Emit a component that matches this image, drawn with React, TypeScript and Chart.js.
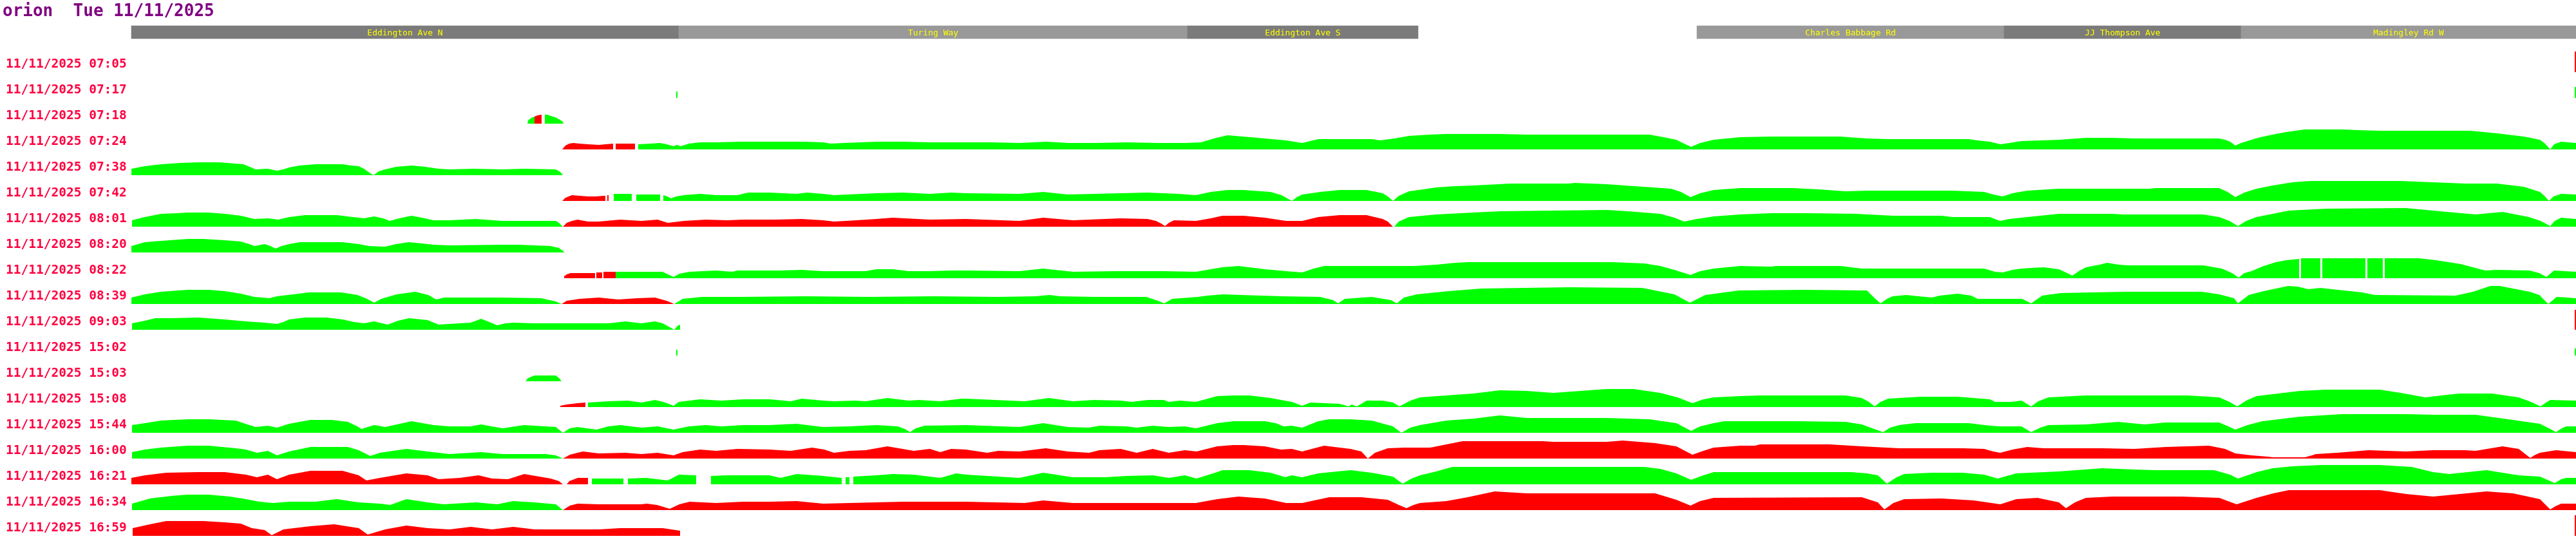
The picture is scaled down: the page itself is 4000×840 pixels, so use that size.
import React, { useEffect, useRef } from "react";
import { Chart, registerables } from "chart.js";

Chart.register(...registerables);

type Run = { c: "g" | "r"; p: number[] }; // p = [distance, height, distance, height, ...]

const titleText = "orion  Tue 11/11/2025";

const tripLabels = [
  "11/11/2025 07:05", "11/11/2025 07:17", "11/11/2025 07:18", "11/11/2025 07:24",
  "11/11/2025 07:38", "11/11/2025 07:42", "11/11/2025 08:01", "11/11/2025 08:20",
  "11/11/2025 08:22", "11/11/2025 08:39", "11/11/2025 09:03", "11/11/2025 15:02",
  "11/11/2025 15:03", "11/11/2025 15:08", "11/11/2025 15:44", "11/11/2025 16:00",
  "11/11/2025 16:21", "11/11/2025 16:34", "11/11/2025 16:59",
];

const stopNames = ["Eddington Ave N", "Turing Way", "Eddington Ave S", "Charles Babbage Rd", "JJ Thompson Ave", "Madingley Rd W"];
const stopFrom = [204, 1054, 1844, 2635, 3112, 3480];
const stopTo = [1054, 1844, 2202, 3112, 3480, 4000];
const stopTone = ["#7b7b7b", "#999999", "#7b7b7b", "#999999", "#7b7b7b", "#999999"];

const t0705: Run[] = [{ c: "r", p: [3998, 32, 4000, 32] }];
const t0717: Run[] = [{ c: "g", p: [1050, 10, 1052, 10] }, { c: "g", p: [3998, 17, 4000, 17] }];
const t0718: Run[] = [
  { c: "g", p: [819, 0, 820, 5, 825, 9, 830, 11] },
  { c: "r", p: [830, 11, 835, 13, 841, 14] },
  { c: "g", p: [846, 14, 850, 14, 855, 12, 862, 10, 868, 7, 874, 3, 875, 0] },
];
const t0724: Run[] = [
  { c: "r", p: [873, 0, 878, 6, 884, 9, 890, 10, 900, 9, 913, 8, 930, 7, 940, 8, 952, 9] },
  { c: "r", p: [956, 9, 986, 9] },
  { c: "g", p: [991, 8, 1010, 9, 1025, 10, 1035, 8, 1046, 5, 1051, 7, 1057, 5, 1070, 9, 1087, 11, 1112, 11, 1150, 12, 1200, 12, 1250, 12, 1278, 11, 1290, 9, 1310, 10, 1361, 12, 1400, 12, 1444, 11, 1500, 11, 1540, 11, 1583, 10, 1624, 12, 1660, 10, 1700, 10, 1750, 11, 1800, 10, 1840, 10, 1865, 11, 1885, 17, 1906, 22, 1930, 20, 1964, 17, 1997, 14, 2022, 10, 2047, 16, 2100, 16, 2130, 16, 2143, 14, 2165, 17, 2188, 21, 2220, 23, 2246, 24, 2329, 24, 2370, 23, 2561, 23, 2578, 20, 2603, 15, 2615, 9, 2626, 4, 2640, 10, 2661, 15, 2702, 19, 2750, 20, 2858, 20, 2870, 19, 2899, 17, 2932, 16, 3057, 16, 3070, 14, 3090, 12, 3106, 8, 3120, 10, 3139, 13, 3170, 14, 3197, 15, 3239, 18, 3280, 18, 3314, 17, 3446, 17, 3455, 15, 3463, 12, 3471, 6, 3480, 10, 3496, 15, 3510, 19, 3529, 23, 3550, 27, 3579, 31, 3637, 31, 3660, 30, 3695, 29, 3836, 29, 3877, 25, 3919, 20, 3944, 15, 3952, 9, 3960, 0, 3966, 8, 3977, 12, 4000, 10] },
];
const t0738: Run[] = [
  { c: "g", p: [204, 10, 225, 14, 250, 17, 280, 19, 308, 20, 340, 20, 353, 19, 378, 17, 390, 12, 397, 9, 416, 10, 430, 7, 440, 9, 449, 12, 465, 15, 490, 17, 532, 17, 545, 15, 557, 14, 565, 10, 572, 5, 580, 0, 588, 6, 598, 9, 615, 13, 639, 15, 660, 13, 681, 10, 698, 9, 735, 10, 780, 9, 814, 10, 863, 9, 870, 5, 874, 0] },
];
const t0742: Run[] = [
  { c: "r", p: [873, 0, 878, 5, 888, 9, 900, 8, 913, 7, 925, 7, 938, 8, 940, 8] },
  { c: "r", p: [943, 9, 945, 9] },
  { c: "g", p: [953, 11, 981, 11] },
  { c: "g", p: [988, 10, 1025, 10] },
  { c: "g", p: [1030, 9, 1036, 7, 1042, 4, 1050, 7, 1062, 9, 1087, 11, 1112, 9, 1145, 9, 1162, 13, 1195, 13, 1237, 11, 1253, 13, 1278, 11, 1295, 9, 1361, 12, 1402, 13, 1444, 11, 1477, 13, 1500, 12, 1583, 11, 1620, 14, 1658, 10, 1700, 11, 1740, 12, 1782, 13, 1830, 11, 1857, 9, 1880, 14, 1906, 17, 1931, 17, 1973, 14, 1990, 9, 2006, 0, 2014, 6, 2022, 10, 2050, 14, 2080, 17, 2122, 17, 2147, 12, 2155, 7, 2163, 0, 2172, 8, 2188, 15, 2210, 18, 2230, 21, 2260, 23, 2288, 24, 2346, 27, 2437, 27, 2445, 28, 2495, 26, 2537, 23, 2595, 19, 2610, 14, 2625, 6, 2640, 12, 2661, 17, 2702, 20, 2783, 20, 2824, 18, 2866, 15, 2899, 16, 3032, 16, 3081, 14, 3095, 10, 3110, 7, 3125, 12, 3148, 16, 3197, 19, 3339, 19, 3347, 20, 3446, 20, 3459, 14, 3471, 6, 3485, 13, 3504, 19, 3529, 24, 3560, 29, 3587, 31, 3728, 31, 3778, 29, 3828, 27, 3877, 27, 3919, 22, 3944, 14, 3951, 8, 3958, 0, 3965, 7, 3977, 11, 4000, 10] },
];
const t0801: Run[] = [
  { c: "g", p: [205, 10, 225, 15, 250, 20, 275, 21, 291, 22, 324, 22, 349, 20, 374, 17, 395, 12, 416, 13, 432, 11, 449, 15, 474, 18, 523, 18, 548, 15, 565, 13, 581, 16, 595, 13, 605, 9, 620, 13, 639, 17, 655, 14, 673, 10, 698, 10, 739, 12, 780, 9, 863, 9, 868, 6, 874, 0] },
  { c: "r", p: [874, 0, 880, 6, 888, 9, 897, 11, 913, 8, 930, 8, 963, 11, 996, 9, 1021, 11, 1037, 6, 1062, 9, 1096, 11, 1129, 10, 1154, 11, 1203, 11, 1245, 12, 1278, 10, 1295, 8, 1330, 10, 1361, 12, 1386, 14, 1444, 11, 1500, 12, 1583, 9, 1620, 14, 1666, 10, 1740, 13, 1782, 12, 1795, 9, 1803, 5, 1809, 1, 1815, 6, 1823, 10, 1857, 9, 1880, 13, 1898, 17, 1931, 17, 1964, 14, 1997, 9, 2022, 9, 2047, 15, 2080, 18, 2122, 18, 2147, 12, 2155, 8, 2163, 0] },
  { c: "g", p: [2165, 0, 2172, 8, 2188, 15, 2230, 19, 2288, 22, 2329, 24, 2412, 25, 2495, 26, 2528, 24, 2578, 20, 2600, 14, 2615, 8, 2635, 12, 2661, 16, 2702, 19, 2750, 21, 2808, 21, 2882, 20, 2940, 17, 3015, 17, 3032, 15, 3090, 15, 3100, 11, 3106, 9, 3120, 12, 3148, 15, 3197, 20, 3280, 20, 3297, 19, 3421, 19, 3446, 15, 3462, 9, 3475, 1, 3488, 9, 3504, 15, 3529, 20, 3554, 25, 3612, 28, 3736, 29, 3778, 25, 3844, 19, 3886, 23, 3927, 15, 3945, 9, 3960, 1, 3967, 9, 3977, 14, 4000, 12] },
];
const t0820: Run[] = [
  { c: "g", p: [204, 10, 225, 16, 250, 18, 291, 21, 316, 21, 349, 19, 374, 17, 387, 13, 395, 10, 411, 13, 420, 10, 428, 6, 437, 10, 449, 13, 465, 16, 532, 16, 557, 13, 573, 10, 598, 9, 615, 13, 635, 16, 655, 14, 673, 12, 698, 11, 780, 12, 805, 12, 855, 10, 868, 7, 877, 0] },
];
const t0822: Run[] = [
  { c: "r", p: [876, 3, 880, 6, 886, 8, 924, 8] },
  { c: "r", p: [926, 9, 935, 9] },
  { c: "r", p: [937, 10, 956, 10] },
  { c: "g", p: [956, 10, 1029, 10, 1037, 6, 1046, 2, 1055, 7, 1071, 10, 1112, 12, 1137, 10, 1145, 12, 1212, 12, 1245, 13, 1278, 11, 1344, 11, 1361, 14, 1386, 14, 1411, 11, 1444, 11, 1477, 12, 1500, 12, 1583, 11, 1620, 15, 1666, 10, 1732, 11, 1807, 11, 1857, 10, 1880, 14, 1898, 17, 1923, 19, 1964, 14, 1997, 11, 2022, 9, 2040, 15, 2056, 19, 2196, 19, 2230, 21, 2260, 24, 2279, 25, 2503, 25, 2553, 23, 2578, 19, 2600, 13, 2625, 5, 2640, 11, 2661, 15, 2702, 19, 2750, 18, 2758, 19, 2858, 19, 2891, 15, 3081, 15, 3098, 10, 3110, 9, 3125, 13, 3139, 15, 3173, 17, 3197, 14, 3210, 8, 3218, 4, 3228, 11, 3239, 17, 3260, 21, 3272, 24, 3290, 21, 3305, 20, 3421, 20, 3450, 15, 3466, 8, 3476, 1, 3485, 8, 3496, 11, 3515, 19, 3534, 25, 3550, 28, 3570, 30] },
  { c: "g", p: [3573, 31, 3603, 31] },
  { c: "g", p: [3606, 31, 3673, 31] },
  { c: "g", p: [3676, 31, 3700, 31] },
  { c: "g", p: [3703, 31, 3756, 31, 3783, 28, 3821, 22, 3859, 12, 3878, 13, 3928, 12, 3943, 8, 3954, 2, 3960, 7, 3966, 12, 4000, 10] },
];
const t0839: Run[] = [
  { c: "g", p: [204, 10, 225, 15, 250, 19, 291, 22, 324, 22, 349, 20, 374, 16, 395, 11, 418, 9, 430, 12, 447, 14, 480, 18, 530, 18, 555, 14, 570, 8, 581, 2, 592, 8, 616, 15, 645, 19, 665, 14, 677, 7, 690, 10, 780, 10, 840, 9, 863, 4, 872, 0] },
  { c: "r", p: [872, 0, 880, 5, 900, 8, 930, 10, 960, 7, 990, 9, 1017, 10, 1035, 5, 1047, 0] },
  { c: "g", p: [1047, 0, 1060, 8, 1090, 11, 1150, 11, 1250, 12, 1350, 11, 1450, 12, 1550, 11, 1608, 12, 1630, 14, 1646, 12, 1700, 11, 1780, 11, 1795, 6, 1808, 1, 1820, 8, 1860, 11, 1875, 13, 1900, 15, 1927, 14, 1990, 12, 2050, 11, 2070, 6, 2078, 1, 2088, 8, 2130, 11, 2160, 6, 2169, 1, 2180, 10, 2200, 15, 2250, 20, 2300, 24, 2437, 26, 2550, 25, 2600, 15, 2624, 2, 2648, 14, 2700, 21, 2800, 22, 2899, 21, 2910, 10, 2920, 1, 2930, 8, 2939, 12, 2960, 14, 2979, 12, 3000, 10, 3012, 13, 3040, 16, 3061, 13, 3071, 8, 3140, 8, 3154, 1, 3171, 13, 3200, 17, 3300, 19, 3419, 19, 3446, 15, 3469, 9, 3475, 1, 3492, 14, 3515, 20, 3553, 28, 3568, 27, 3584, 23, 3603, 25, 3630, 22, 3668, 18, 3687, 14, 3813, 13, 3840, 19, 3867, 28, 3882, 28, 3897, 25, 3928, 19, 3943, 14, 3957, 0, 3970, 11, 4000, 9] },
];
const t0903: Run[] = [
  { c: "g", p: [205, 10, 225, 14, 241, 18, 266, 18, 308, 19, 349, 16, 382, 13, 411, 11, 430, 9, 440, 12, 449, 16, 474, 19, 507, 19, 532, 16, 550, 12, 565, 10, 581, 13, 602, 8, 618, 14, 635, 18, 664, 15, 681, 8, 714, 10, 731, 11, 747, 17, 760, 12, 772, 7, 785, 10, 797, 11, 830, 10, 946, 10, 971, 13, 996, 10, 1017, 13, 1029, 10, 1040, 4, 1047, 0, 1052, 6, 1056, 8] },
  { c: "r", p: [3998, 31, 4000, 31] },
];
const t1502: Run[] = [{ c: "g", p: [1050, 9, 1052, 9] }, { c: "g", p: [3998, 11, 4000, 11] }];
const t1503: Run[] = [{ c: "g", p: [816, 0, 820, 5, 830, 9, 863, 9, 868, 5, 872, 0] }];
const t1508: Run[] = [
  { c: "r", p: [870, 2, 880, 4, 897, 6, 909, 7] },
  { c: "g", p: [913, 7, 946, 9, 975, 10, 996, 7, 1017, 11, 1030, 8, 1046, 2, 1054, 8, 1087, 12, 1120, 10, 1154, 12, 1195, 12, 1228, 9, 1245, 13, 1278, 10, 1295, 9, 1328, 10, 1344, 9, 1378, 14, 1411, 10, 1427, 11, 1460, 9, 1493, 13, 1500, 13, 1591, 9, 1629, 14, 1666, 9, 1699, 11, 1740, 10, 1757, 8, 1782, 11, 1807, 11, 1815, 8, 1832, 10, 1857, 8, 1890, 17, 1915, 18, 1940, 18, 1973, 14, 2006, 8, 2022, 2, 2035, 7, 2080, 5, 2094, 1, 2099, 4, 2107, 1, 2122, 10, 2147, 10, 2163, 7, 2173, 1, 2190, 10, 2205, 15, 2246, 18, 2288, 21, 2329, 26, 2371, 25, 2412, 22, 2454, 25, 2495, 28, 2537, 28, 2578, 22, 2605, 15, 2628, 6, 2645, 12, 2661, 15, 2702, 17, 2733, 18, 2866, 18, 2891, 14, 2902, 8, 2911, 1, 2920, 8, 2932, 13, 2982, 16, 3040, 16, 3090, 12, 3098, 8, 3123, 8, 3139, 10, 3154, 1, 3165, 9, 3181, 15, 3239, 18, 3397, 18, 3446, 15, 3462, 8, 3474, 1, 3488, 10, 3504, 17, 3571, 25, 3612, 27, 3695, 27, 3728, 22, 3766, 15, 3800, 19, 3819, 21, 3869, 21, 3911, 15, 3930, 8, 3945, 1, 3952, 6, 3960, 11, 4000, 10] },
];
const t1544: Run[] = [
  { c: "g", p: [205, 12, 225, 15, 250, 19, 291, 21, 324, 21, 366, 19, 378, 15, 397, 9, 416, 11, 430, 8, 449, 14, 482, 20, 515, 20, 540, 17, 555, 10, 561, 6, 581, 12, 598, 9, 639, 18, 673, 12, 698, 10, 731, 10, 747, 13, 780, 7, 814, 12, 863, 9, 874, 0, 885, 7, 897, 9, 926, 5, 945, 10, 963, 12, 996, 8, 1021, 10, 1046, 5, 1070, 10, 1096, 12, 1120, 10, 1154, 12, 1195, 12, 1237, 14, 1278, 9, 1319, 10, 1361, 12, 1394, 10, 1405, 6, 1413, 1, 1422, 7, 1436, 11, 1500, 12, 1583, 9, 1620, 15, 1658, 9, 1691, 8, 1707, 11, 1749, 10, 1765, 8, 1790, 11, 1815, 9, 1840, 10, 1857, 7, 1890, 15, 1915, 18, 1964, 18, 1981, 15, 1993, 10, 2006, 11, 2022, 8, 2047, 18, 2064, 21, 2097, 21, 2130, 19, 2163, 10, 2176, 0, 2190, 8, 2205, 12, 2246, 19, 2288, 22, 2329, 27, 2371, 23, 2495, 23, 2561, 21, 2603, 15, 2626, 3, 2640, 10, 2661, 15, 2677, 18, 2791, 18, 2866, 17, 2891, 13, 2910, 6, 2924, 1, 2935, 8, 2949, 12, 2974, 15, 3057, 15, 3090, 11, 3106, 10, 3139, 10, 3154, 1, 3168, 8, 3181, 12, 3239, 13, 3289, 17, 3330, 13, 3363, 16, 3446, 16, 3460, 10, 3471, 5, 3490, 12, 3513, 18, 3571, 25, 3637, 29, 3736, 29, 3778, 28, 3844, 28, 3902, 20, 3944, 14, 3960, 6, 3969, 1, 3978, 7, 3985, 10, 4000, 10] },
];
const t1600: Run[] = [
  { c: "g", p: [205, 10, 225, 14, 250, 17, 291, 20, 324, 20, 366, 16, 382, 14, 399, 9, 416, 12, 430, 5, 449, 11, 482, 18, 540, 18, 557, 13, 575, 4, 590, 9, 631, 15, 664, 11, 698, 7, 747, 10, 780, 7, 847, 7, 863, 5, 874, 0] },
  { c: "r", p: [874, 0, 885, 6, 905, 11, 930, 8, 971, 9, 996, 7, 1021, 9, 1046, 5, 1060, 10, 1087, 14, 1112, 12, 1145, 15, 1195, 14, 1228, 12, 1261, 17, 1280, 14, 1295, 9, 1319, 12, 1344, 13, 1378, 19, 1419, 12, 1444, 15, 1460, 10, 1477, 15, 1500, 14, 1533, 9, 1550, 12, 1583, 11, 1624, 16, 1658, 11, 1691, 9, 1707, 13, 1740, 15, 1765, 9, 1790, 15, 1815, 9, 1840, 13, 1858, 11, 1890, 19, 1915, 21, 1931, 21, 1964, 19, 1989, 14, 2006, 15, 2022, 11, 2056, 20, 2097, 15, 2114, 11, 2124, 0, 2135, 9, 2155, 16, 2180, 17, 2221, 17, 2246, 22, 2271, 27, 2396, 27, 2412, 26, 2495, 26, 2520, 28, 2570, 24, 2603, 19, 2628, 6, 2645, 12, 2661, 17, 2702, 20, 2725, 20, 2733, 22, 2841, 22, 2891, 19, 2949, 16, 3048, 16, 3081, 15, 3095, 11, 3106, 9, 3125, 14, 3148, 18, 3173, 16, 3264, 16, 3314, 15, 3363, 18, 3430, 20, 3455, 15, 3471, 8, 3496, 5, 3521, 3, 3529, 2, 3579, 2, 3590, 5, 3596, 7, 3629, 9, 3678, 13, 3736, 11, 3778, 13, 3828, 13, 3844, 12, 3886, 19, 3911, 15, 3920, 8, 3929, 1, 3937, 6, 3944, 9, 3969, 13, 4000, 10] },
];
const t1621: Run[] = [
  { c: "r", p: [204, 10, 225, 14, 258, 18, 308, 19, 349, 19, 382, 15, 399, 11, 416, 15, 430, 8, 449, 15, 482, 21, 532, 21, 557, 14, 569, 6, 590, 10, 631, 17, 664, 14, 681, 8, 714, 10, 743, 14, 764, 9, 789, 8, 814, 16, 855, 9, 868, 5, 874, 0] },
  { c: "r", p: [880, 0, 884, 5, 897, 10, 913, 10] },
  { c: "g", p: [919, 9, 968, 9] },
  { c: "g", p: [975, 9, 1004, 10, 1037, 6, 1054, 15, 1081, 14] },
  { c: "g", p: [1104, 13, 1129, 14, 1195, 14, 1212, 10, 1237, 16, 1278, 13, 1307, 10] },
  { c: "g", p: [1313, 11, 1319, 11] },
  { c: "g", p: [1325, 12, 1361, 14, 1386, 16, 1419, 15, 1460, 10, 1485, 17, 1500, 15, 1583, 10, 1620, 18, 1666, 11, 1716, 11, 1749, 13, 1790, 14, 1815, 10, 1840, 14, 1858, 9, 1890, 19, 1898, 22, 1940, 22, 1973, 18, 1996, 11, 2006, 14, 2022, 11, 2047, 17, 2097, 22, 2130, 18, 2163, 12, 2178, 1, 2192, 9, 2205, 14, 2230, 20, 2255, 27, 2553, 27, 2578, 24, 2603, 17, 2626, 7, 2645, 14, 2661, 19, 2874, 19, 2899, 17, 2916, 14, 2930, 1, 2945, 11, 2957, 16, 2999, 18, 3048, 18, 3081, 15, 3102, 9, 3131, 17, 3197, 20, 3264, 25, 3314, 23, 3347, 22, 3438, 22, 3463, 15, 3475, 9, 3490, 14, 3504, 19, 3529, 25, 3560, 28, 3604, 30, 3695, 30, 3745, 27, 3778, 19, 3803, 16, 3861, 22, 3911, 14, 3944, 12, 3967, 2, 3977, 8, 3985, 10, 4000, 10] },
];
const t1634: Run[] = [
  { c: "g", p: [205, 10, 233, 18, 266, 22, 291, 24, 324, 24, 357, 21, 382, 17, 403, 13, 424, 11, 449, 13, 490, 13, 523, 17, 557, 12, 590, 10, 606, 8, 631, 17, 664, 12, 689, 9, 739, 12, 772, 9, 797, 14, 830, 12, 863, 9, 868, 5, 874, 0] },
  { c: "r", p: [874, 0, 885, 7, 897, 10, 930, 9, 996, 9, 1004, 10, 1020, 8, 1040, 2, 1055, 9, 1071, 13, 1112, 11, 1154, 13, 1195, 13, 1237, 14, 1278, 10, 1361, 12, 1402, 13, 1500, 13, 1591, 11, 1620, 15, 1666, 11, 1857, 11, 1890, 17, 1923, 21, 1964, 18, 1997, 11, 2022, 11, 2064, 20, 2114, 20, 2155, 16, 2172, 8, 2184, 3, 2195, 8, 2205, 11, 2246, 14, 2279, 20, 2321, 29, 2371, 26, 2570, 26, 2603, 16, 2625, 7, 2640, 14, 2661, 19, 2891, 20, 2916, 12, 2926, 1, 2940, 11, 2957, 17, 3015, 18, 3065, 15, 3106, 9, 3131, 17, 3164, 19, 3197, 12, 3208, 3, 3222, 12, 3239, 19, 3280, 21, 3388, 21, 3446, 19, 3473, 9, 3504, 19, 3530, 26, 3554, 31, 3695, 31, 3736, 25, 3778, 21, 3820, 25, 3861, 29, 3902, 26, 3944, 17, 3960, 1, 3968, 6, 3977, 10, 4000, 10] },
];
const t1659: Run[] = [
  { c: "r", p: [206, 12, 233, 18, 258, 23, 316, 23, 349, 21, 374, 19, 391, 12, 411, 9, 422, 1, 440, 10, 482, 15, 519, 18, 557, 12, 571, 2, 598, 10, 631, 16, 664, 12, 698, 10, 731, 14, 764, 10, 797, 14, 830, 10, 930, 10, 963, 12, 1029, 12, 1056, 8] },
  { c: "r", p: [3998, 32, 4000, 32] },
];

const trips: Run[][] = [
  t0705, t0717, t0718, t0724, t0738, t0742, t0801, t0820, t0822, t0839,
  t0903, t1502, t1503, t1508, t1544, t1600, t1621, t1634, t1659,
];

const W = 4000;
const H = 840;
const ROW0 = 112;
const PITCH = 40;
const BAND_Y = 50;
const GREEN = "#00ff00";
const RED = "#ff0000";

export default function App() {
  const ref = useRef<HTMLCanvasElement | null>(null);

  useEffect(() => {
    const canvas = ref.current;
    if (!canvas) return;

    const datasets: any[] = [];
    datasets.push({
      type: "bar",
      indexAxis: "y",
      data: stopFrom.map((f, k) => ({ x: [f, stopTo[k]], y: BAND_Y })),
      backgroundColor: stopTone,
      borderWidth: 0,
      barThickness: 20,
      grouped: false,
      order: 1,
    });
    trips.forEach((runs, i) => {
      const base = ROW0 + PITCH * i;
      runs.forEach((run) => {
        const pts: { x: number; y: number }[] = [];
        for (let k = 0; k < run.p.length; k += 2) pts.push({ x: run.p[k], y: base - run.p[k + 1] });
        const col = run.c === "g" ? GREEN : RED;
        datasets.push({
          type: "line",
          data: pts,
          fill: { value: base },
          backgroundColor: col,
          borderColor: col,
          borderWidth: 0,
          pointRadius: 0,
          tension: 0,
          order: 2,
        });
      });
    });

    const textPlugin = {
      id: "textLayer",
      afterDatasetsDraw(chart: any) {
        const { ctx, scales } = chart;
        const xs = scales.x;
        const ys = scales.y;
        ctx.save();
        ctx.textAlign = "left";
        ctx.textBaseline = "alphabetic";
        ctx.fillStyle = "#800080";
        ctx.font = 'bold 26px "DejaVu Sans Mono"';
        ctx.fillText(titleText, 4, 25);

        ctx.fillStyle = "#ffff00";
        ctx.font = '13px "DejaVu Sans Mono"';
        ctx.textAlign = "center";
        stopNames.forEach((n, k) => {
          const cx = (xs.getPixelForValue(stopFrom[k]) + xs.getPixelForValue(stopTo[k])) / 2;
          ctx.fillText(n, cx, ys.getPixelForValue(BAND_Y) + 5);
        });

        ctx.textAlign = "left";
        ctx.fillStyle = "#ff0040";
        ctx.font = 'bold 19.5px "DejaVu Sans Mono"';
        tripLabels.forEach((lab, i) => {
          const y = ys.getPixelForValue(ROW0 + PITCH * i) - 7;
          ctx.fillText(lab, 9, y);
        });
        ctx.restore();
      },
    };

    const chart = new Chart(canvas, {
      type: "line",
      data: { datasets },
      options: {
        responsive: false,
        animation: false,
        devicePixelRatio: 1,
        layout: { padding: 0 },
        plugins: { legend: { display: false }, tooltip: { enabled: false }, title: { display: false } },
        scales: {
          x: { type: "linear", min: 0, max: W, display: false, offset: false },
          y: { type: "linear", min: 0, max: H, reverse: true, display: false, offset: false },
        },
      },
      plugins: [textPlugin],
    });
    return () => chart.destroy();
  }, []);

  return (
    <canvas
      ref={ref}
      width={W}
      height={H}
      style={{ position: "absolute", left: 0, top: 0, width: W, height: H, background: "#ffffff" }}
    />
  );
}
